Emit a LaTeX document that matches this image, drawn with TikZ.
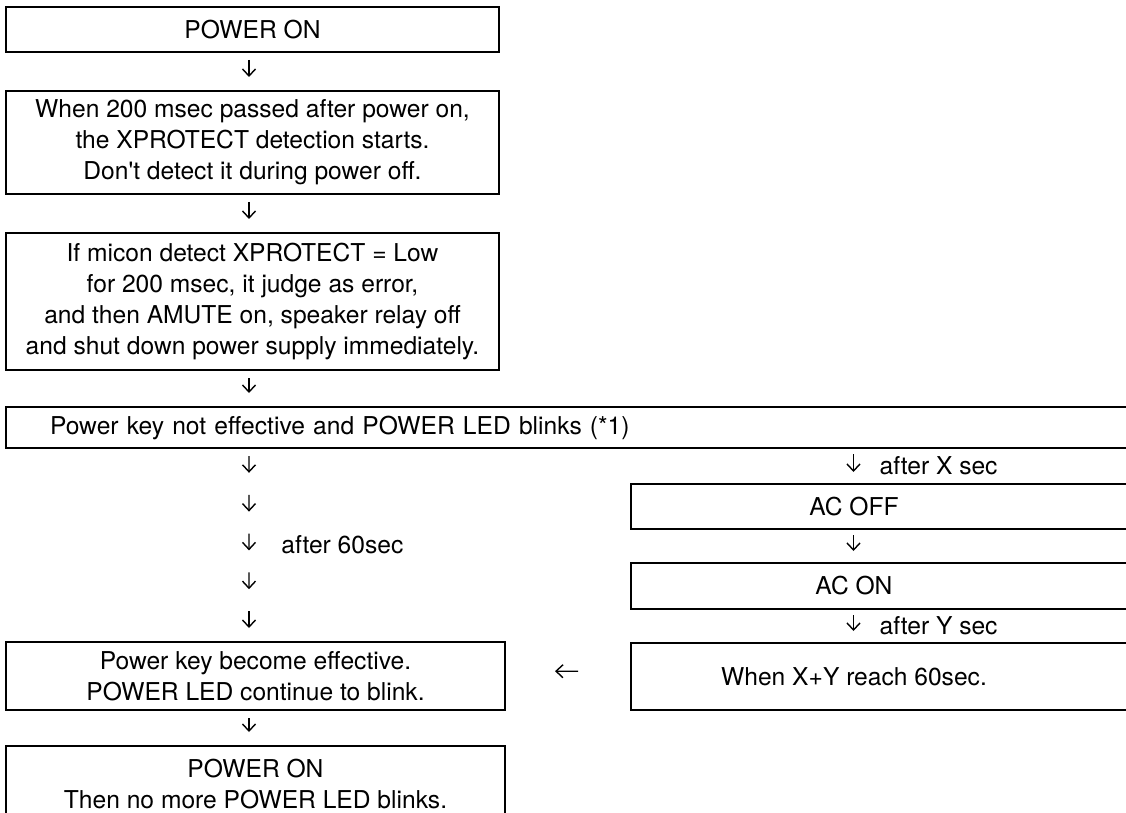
\documentclass[tikz,border=0pt]{standalone}
\usepackage{fontspec}
\setmainfont{TeX Gyre Heros}[Ligatures=TeXOff]
\usetikzlibrary{
    positioning,
    arrows.meta,
    calc
}
% text of a box that runs out of the page on the right
\newcommand{\rtxt}[1]{\makebox[223pt]{#1}\hspace*{300pt}}

\begin{document}
\begin{tikzpicture}[
    x=0.5pt, y=-0.5pt,
    font=\fontsize{12.3}{15.5}\selectfont,
    box/.style={draw, line width=1pt, align=center, inner sep=0pt, outer sep=0pt},
    lbox/.style={box, minimum width=246.5pt},
    wbox/.style={box, minimum width=249.5pt},
    rbox/.style={box, anchor=west},
    dn/.style={line width=0.7pt, -{Straight Barb[length=3.5pt, width=6.5pt]}, shorten <=4pt, shorten >=7pt},
    dns/.style={dn, shorten <=3pt, shorten >=6pt},
    lbl/.style={inner sep=0pt},
]
\useasboundingbox (0,0) rectangle (1126,813);
\clip (0,0) rectangle (1126,813);

% main column
\node[lbox, minimum height=22.5pt] (pon) at (252.5,29.5) {POWER ON};
\node[lbox, minimum height=51.5pt] (start) at (252.5,142.5) {When 200 msec passed after power on,\\ the XPROTECT detection starts.\\ Don't detect it during power off.};
\node[lbox, minimum height=68.5pt] (judge) at (252.5,301.5) {If micon detect XPROTECT = Low\\ for 200 msec, it judge as error,\\ and then AMUTE on, speaker relay off\\ and shut down power supply immediately.};
\node[box, anchor=west, text width=560pt, align=left, inner xsep=22pt, minimum height=20.5pt] (blink) at (6,427.5) {Power key not effective and POWER LED blinks (*1)};
\node[wbox, minimum height=34pt] (effect) at (255.5,676) {Power key become effective.\\ POWER LED continue to blink.};
\node[wbox, minimum height=38pt, anchor=north] (final) at (255.5,746) {POWER ON\\ Then no more POWER LED blinks.};

% AC branch
\node[rbox, minimum height=22.5pt] (acoff) at (631,506.5) {\rtxt{AC OFF}};
\node[rbox, minimum height=23pt] (acon) at (631,586) {\rtxt{AC ON}};
\node[rbox, minimum height=33.5pt] (reach) at (631,676.5) {\rtxt{When X+Y reach 60sec.}};

\coordinate (lc) at (249,0);
\coordinate (rc) at (853.5,0);

% arrows
\draw[dn] (pon.south -| lc) -- (start.north -| lc);
\draw[dn] (start.south -| lc) -- (judge.north -| lc);
\draw[dn] (judge.south -| lc) -- (blink.north -| lc);

\coordinate (t0) at (blink.south -| lc);
\coordinate (t5) at (effect.north -| lc);
\foreach \i in {1,...,4}
  \coordinate (t\i) at ($(t0)!\i/5!(t5)$);
\foreach \i [count=\j] in {0,...,4}
  \draw[dn] (t\i) -- (t\j);
\path (t2) -- node[lbl, right=16pt] {after 60sec} (t3);

\draw[dn] (effect.south -| lc) -- (final.north -| lc);

\draw[dns] (blink.south -| rc) -- node[lbl, right=12.75pt] {after X sec} (acoff.north -| rc);
\draw[dns] (acoff.south -| rc) -- (acon.north -| rc);
\draw[dns] (acon.south -| rc) -- node[lbl, right=12.75pt] {after Y sec} (reach.north -| rc);
\draw[dn, shorten <=26.5pt, shorten >=25pt] ([yshift=2.5pt]reach.west) -- ([yshift=2.5pt]effect.east);
\end{tikzpicture}
\end{document}
